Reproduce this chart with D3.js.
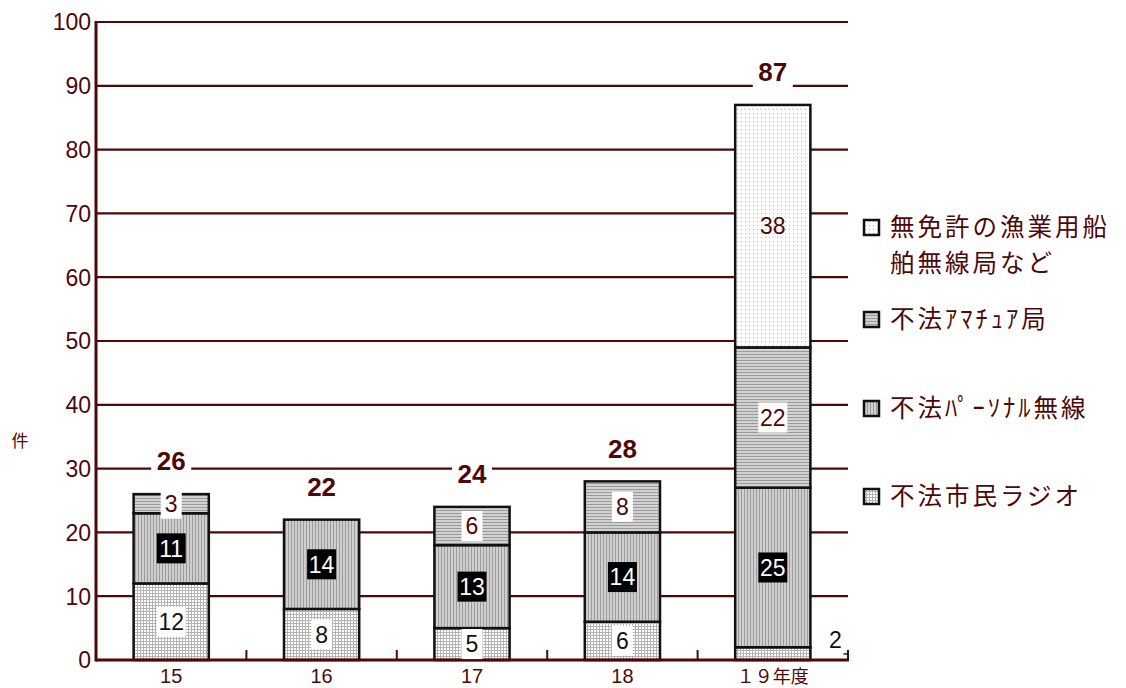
<!DOCTYPE html>
<html>
<head>
<meta charset="utf-8">
<script src="https://cdn.jsdelivr.net/npm/d3@7"></script>
<style>
  html, body { margin: 0; padding: 0; background: #fff; }
  svg { display: block; }
</style>
</head>
<body>
<div id="chart"></div>
<script>
// Fiscal years (平成) on the category axis
const categories = ["15", "16", "17", "18", "１９年度"];

// Cases per type, stacked bottom to top
const citizenRadio   = [12, 8, 5, 6, 2];    // 不法市民ラジオ
const personalRadio  = [11, 14, 13, 14, 25]; // 不法パーソナル無線
const amateurStation = [3, 0, 6, 8, 22];     // 不法アマチュア局
const unlicensedShip = [0, 0, 0, 0, 38];     // 無免許の漁業用船舶無線局など
const totals         = [26, 22, 24, 28, 87];

const yTicks = [0, 10, 20, 30, 40, 50, 60, 70, 80, 90, 100];

const W = 1126, H = 688;
const maroon = "#4e0808";
const numFont = "'Liberation Sans', Arial, sans-serif";
const jpFont = "'Noto Sans CJK JP', sans-serif";

const svg = d3.select("#chart").append("svg")
  .attr("width", W).attr("height", H);

// ---- fill patterns ----
const defs = svg.append("defs");

// fine grid (citizen radio)
const pGrid = defs.append("pattern").attr("id", "p-grid")
  .attr("patternUnits", "userSpaceOnUse").attr("width", 3).attr("height", 3);
pGrid.append("rect").attr("width", 3).attr("height", 3).attr("fill", "#fff");
pGrid.append("rect").attr("x", 2).attr("width", 1).attr("height", 3).attr("fill", "#b4b4b4");
pGrid.append("rect").attr("y", 2).attr("width", 3).attr("height", 1).attr("fill", "#b4b4b4");

// vertical stripes (personal radio)
const pVert = defs.append("pattern").attr("id", "p-vert")
  .attr("patternUnits", "userSpaceOnUse").attr("width", 3).attr("height", 3);
pVert.append("rect").attr("width", 3).attr("height", 3).attr("fill", "#cfcfcf");
pVert.append("rect").attr("x", 0).attr("width", 1).attr("height", 3).attr("fill", "#9c9c9c");

// horizontal stripes (amateur station)
const pHorz = defs.append("pattern").attr("id", "p-horz")
  .attr("patternUnits", "userSpaceOnUse").attr("width", 3).attr("height", 3);
pHorz.append("rect").attr("width", 3).attr("height", 3).attr("fill", "#d2d2d2");
pHorz.append("rect").attr("y", 0).attr("width", 3).attr("height", 1).attr("fill", "#9a9a9a");

// sparse dots (unlicensed ship stations)
const pDots = defs.append("pattern").attr("id", "p-dots")
  .attr("patternUnits", "userSpaceOnUse").attr("width", 4).attr("height", 4);
pDots.append("rect").attr("width", 4).attr("height", 4).attr("fill", "#fff");
pDots.append("rect").attr("x", 1).attr("y", 1).attr("width", 1).attr("height", 1).attr("fill", "#b8b8b8");

// ---- scales ----
const plotL = 96, plotR = 848, plotT = 22, plotB = 660;
const x = d3.scaleBand().domain(categories).range([plotL, plotR])
  .paddingInner(0.5).paddingOuter(0.25);
const y = d3.scaleLinear().domain([0, 100]).range([plotB, plotT]);

// ---- gridlines & y axis ----
svg.append("g").selectAll("line").data(yTicks.filter(d => d > 0)).join("line")
  .attr("x1", plotL).attr("x2", plotR)
  .attr("y1", d => y(d)).attr("y2", d => y(d))
  .attr("stroke", maroon).attr("stroke-width", 2.2);

const yAxis = d3.axisLeft(y).tickValues(yTicks).tickSize(0).tickPadding(5);
const gy = svg.append("g").attr("transform", `translate(${plotL},0)`).call(yAxis);
gy.select(".domain").remove();
gy.selectAll("text")
  .attr("fill", maroon).attr("font-family", numFont).attr("font-size", 23)
  .attr("dy", "0.34em");
svg.append("line").attr("x1", plotL).attr("x2", plotL)
  .attr("y1", plotT - 1).attr("y2", plotB + 1.5)
  .attr("stroke", maroon).attr("stroke-width", 3);

svg.append("text").attr("x", 20).attr("y", 447)
  .attr("text-anchor", "middle").attr("fill", maroon)
  .attr("font-family", jpFont).attr("font-size", 17).text("件");

// ---- stacked bars ----
const seriesDefs = [
  { key: "citizen",    values: citizenRadio,   fill: "url(#p-grid)", label: "box-white" },
  { key: "personal",   values: personalRadio,  fill: "url(#p-vert)", label: "box-black" },
  { key: "amateur",    values: amateurStation, fill: "url(#p-horz)", label: "box-white-m" },
  { key: "unlicensed", values: unlicensedShip, fill: "url(#p-dots)", label: "plain" }
];

const rows = categories.map((c, i) => {
  const r = { cat: c };
  seriesDefs.forEach(s => r[s.key] = s.values[i]);
  return r;
});
const stacked = d3.stack().keys(seriesDefs.map(s => s.key))(rows);

const barG = svg.append("g");
stacked.forEach((layer, li) => {
  barG.append("g").selectAll("rect")
    .data(layer.filter(d => d[1] - d[0] > 0)).join("rect")
    .attr("x", d => x(d.data.cat))
    .attr("width", x.bandwidth())
    .attr("y", d => y(d[1]))
    .attr("height", d => y(d[0]) - y(d[1]))
    .attr("fill", seriesDefs[li].fill)
    .attr("stroke", "#111").attr("stroke-width", 2.5);
});

// ---- x axis baseline & ticks ----
svg.append("line").attr("x1", plotL).attr("x2", plotR + 1)
  .attr("y1", plotB).attr("y2", plotB)
  .attr("stroke", maroon).attr("stroke-width", 3);
const step = x.step();
const sepX = categories.map((c, i) => x(c) + x.bandwidth() / 2 + step / 2);
svg.append("g").selectAll("line").data(sepX).join("line")
  .attr("x1", d => d).attr("x2", d => d)
  .attr("y1", plotB - 10).attr("y2", plotB)
  .attr("stroke", maroon).attr("stroke-width", 2);

svg.append("g").selectAll("text").data(categories).join("text")
  .attr("x", d => x(d) + x.bandwidth() / 2)
  .attr("y", 683)
  .attr("text-anchor", "middle").attr("fill", maroon)
  .attr("font-family", d => /[^\d]/.test(d) ? jpFont : numFont)
  .attr("font-size", d => /[^\d]/.test(d) ? 18 : 20)
  .text(d => d);

// ---- segment value labels ----
const labG = svg.append("g");
stacked.forEach((layer, li) => {
  const style = seriesDefs[li].label;
  layer.forEach(d => {
    const v = d[1] - d[0];
    if (v <= 0) return;
    const cx = x(d.data.cat) + x.bandwidth() / 2;
    const hPx = y(d[0]) - y(d[1]);
    if (hPx < 18) {
      // too thin: label beside the bar with a short leader
      const lx = x(d.data.cat) + x.bandwidth() + 25;
      labG.append("text").attr("x", lx).attr("y", 640)
        .attr("dy", "0.36em")
        .attr("text-anchor", "middle").attr("fill", "#111")
        .attr("font-family", numFont).attr("font-size", 23).text(v);
      labG.append("line").attr("x1", lx + 8).attr("x2", plotR)
        .attr("y1", plotB - 6).attr("y2", plotB - 6)
        .attr("stroke", maroon).attr("stroke-width", 1.5);
      return;
    }
    const cy = (y(d[0]) + y(d[1])) / 2;
    const txt = String(v);
    const bw = txt.length === 1 ? 21 : 29, bh = 30;
    if (style !== "plain") {
      labG.append("rect")
        .attr("x", cx - bw / 2).attr("y", Math.min(cy - bh / 2, plotB - bh))
        .attr("width", bw).attr("height", bh)
        .attr("fill", style === "box-black" ? "#000" : "#fff");
    }
    const ty = Math.min(cy, plotB - bh / 2);
    labG.append("text").attr("x", cx).attr("y", ty)
      .attr("dy", "0.36em").attr("text-anchor", "middle")
      .attr("fill", style === "box-black" ? "#fff" : style === "box-white" ? "#111" : maroon)
      .attr("font-family", numFont).attr("font-size", 23).text(txt);
  });
});

// ---- totals above bars ----
const totG = svg.append("g");
categories.forEach((c, i) => {
  const cx = x(c) + x.bandwidth() / 2;
  const cy = y(totals[i]) - 33;
  totG.append("rect").attr("x", cx - 20).attr("y", cy - 14)
    .attr("width", 40).attr("height", 31).attr("fill", "#fff");
  totG.append("text").attr("x", cx).attr("y", cy)
    .attr("dy", "0.36em").attr("text-anchor", "middle")
    .attr("fill", maroon).attr("font-family", numFont)
    .attr("font-weight", "bold").attr("font-size", 26).text(totals[i]);
});

// ---- legend ----
const legendItems = [
  { fill: "url(#p-dots)", lines: ["無免許の漁業用船", "舶無線局など"], y: 227 },
  { fill: "url(#p-horz)", lines: ["不法ｱﾏﾁｭｱ局"], y: 319 },
  { fill: "url(#p-vert)", lines: ["不法ﾊﾟｰｿﾅﾙ無線"], y: 408 },
  { fill: "url(#p-grid)", lines: ["不法市民ラジオ"], y: 496 }
];
const lg = svg.append("g");
legendItems.forEach(it => {
  lg.append("rect").attr("x", 864).attr("y", it.y - 7)
    .attr("width", 15).attr("height", 15)
    .attr("fill", it.fill).attr("stroke", "#111").attr("stroke-width", 2.5);
  it.lines.forEach((s, k) => {
    lg.append("text").attr("x", 890).attr("y", it.y + k * 36)
      .attr("dy", "0.36em").attr("fill", maroon)
      .attr("font-family", jpFont).attr("font-size", 24.5)
      .attr("letter-spacing", 3).text(s);
  });
});
</script>
</body>
</html>
